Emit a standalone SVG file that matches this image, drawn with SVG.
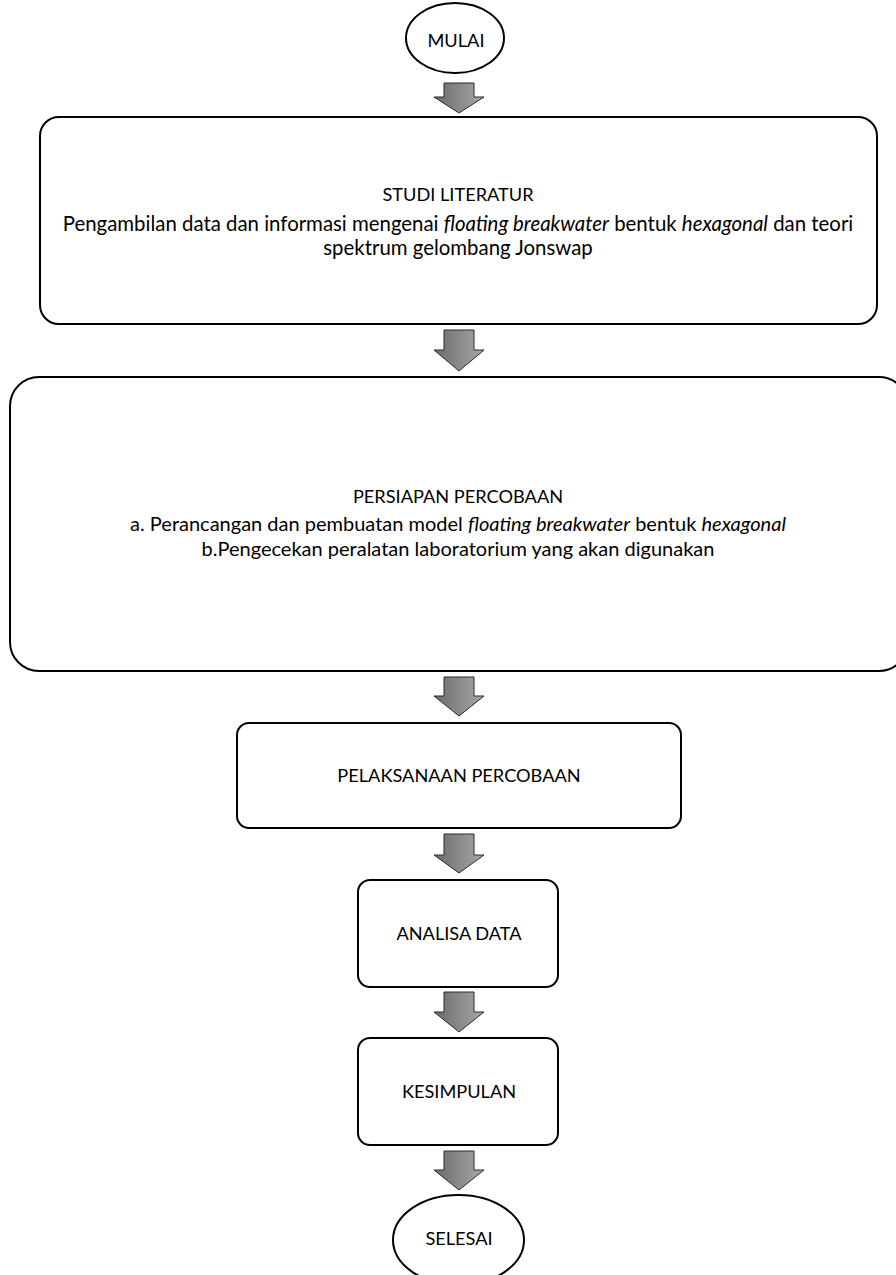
<svg xmlns="http://www.w3.org/2000/svg" width="896" height="1275" viewBox="0 0 896 1275">
<defs>
<linearGradient id="ag" x1="0" y1="0" x2="1" y2="0">
<stop offset="0" stop-color="#6a6a6a"/>
<stop offset="1" stop-color="#a8a8a8"/>
</linearGradient>
<style>
.box{fill:#fff;stroke:#000;stroke-width:2}
.t{font-family:Lato,"Liberation Sans",sans-serif;font-size:20.4px;fill:#000;text-anchor:middle}
.c{font-size:18.2px}
.m{font-size:20px}
.arr{fill:url(#ag);stroke:#2a2a2a;stroke-width:1}
</style>
</defs>
<rect width="896" height="1275" fill="#fff"/>
<g id="connectors">
<polygon class="arr" points="444,83 474,83 474,97 484,97 459,113 434,97 444,97"/>
<polygon class="arr" points="444,330 474,330 474,350 484,350 459,371 434,350 444,350"/>
<polygon class="arr" points="444,677 474,677 474,696 484,696 459,716 434,696 444,696"/>
<polygon class="arr" points="444,834 474,834 474,855 484,855 459,873 434,855 444,855"/>
<polygon class="arr" points="444,992 474,992 474,1012 484,1012 459,1032 434,1012 444,1012"/>
<polygon class="arr" points="444,1151 474,1151 474,1170 484,1170 459,1190 434,1170 444,1170"/>
</g>
<g id="mulai">
<ellipse class="box" cx="455" cy="38" rx="49" ry="35"/>
<text class="t c" x="456" y="47">MULAI</text>
</g>
<g id="studi">
<rect class="box" x="40" y="117" width="837" height="207" rx="19"/>
<text class="t c" x="458" y="201">STUDI LITERATUR</text>
<text class="t" x="458" y="231">Pengambilan data dan informasi mengenai <tspan font-style="italic">floating breakwater</tspan> bentuk <tspan font-style="italic">hexagonal</tspan> dan teori</text>
<text class="t" x="458" y="255">spektrum gelombang Jonswap</text>
</g>
<g id="persiapan">
<rect class="box" x="10" y="377" width="898" height="294" rx="29"/>
<text class="t c" x="458" y="503">PERSIAPAN PERCOBAAN</text>
<text class="t m" x="458" y="531">a. Perancangan dan pembuatan model <tspan font-style="italic">floating breakwater</tspan> bentuk <tspan font-style="italic">hexagonal</tspan></text>
<text class="t m" x="458" y="556">b.Pengecekan peralatan laboratorium yang akan digunakan</text>
</g>
<g id="pelaksanaan">
<rect class="box" x="237" y="723" width="444" height="105" rx="12"/>
<text class="t c" x="459" y="782">PELAKSANAAN PERCOBAAN</text>
</g>
<g id="analisa">
<rect class="box" x="358" y="880" width="200" height="107" rx="12"/>
<text class="t c" x="459" y="940">ANALISA DATA</text>
</g>
<g id="kesimpulan">
<rect class="box" x="358" y="1038" width="200" height="107" rx="12"/>
<text class="t c" x="459" y="1098">KESIMPULAN</text>
</g>
<g id="selesai">
<ellipse class="box" cx="458.5" cy="1240" rx="65.5" ry="45"/>
<text class="t c" x="459" y="1245">SELESAI</text>
</g>
</svg>
